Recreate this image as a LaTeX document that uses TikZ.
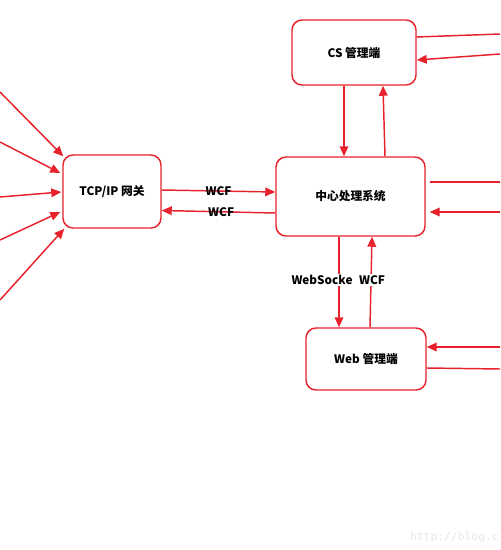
\documentclass[tikz,border=0pt]{standalone}
\usepackage{fontspec}
\setmainfont{Noto Sans CJK SC}
\setmonofont{DejaVu Sans Mono}
\usetikzlibrary{arrows.meta,calc}
\definecolor{lred}{HTML}{E8222C}
\definecolor{wm}{HTML}{EDE4E4}
\tikzset{
  box/.style={draw=lred, line width=1.1pt, rounded corners=7.5pt, fill=white, align=center,
    font=\bfseries\fontsize{8.8}{10}\selectfont, inner sep=0pt},
  conn/.style={draw=lred, line width=1.1pt},
  arr/.style={conn, -{Triangle[length=7.5pt,width=6.5pt]}},
  lbl/.style={font=\bfseries\fontsize{8.8}{10}\selectfont, inner sep=1pt},
}
\begin{document}
\begin{tikzpicture}[x=0.75pt,y=-0.75pt]
\useasboundingbox (0,0) rectangle (500,550);
\clip (0,0) rectangle (500,550);
% boxes
\node[box, minimum width=73.5pt, minimum height=54.75pt] (tcp) at (112,191.5) {TCP/IP 网关};
\node[box, minimum width=93pt, minimum height=48.75pt] (cs) at (354,52.5) {CS 管理端};
\node[box, minimum width=111.75pt, minimum height=59.25pt] (ctr) at (350.5,196.5) {中心处理系统};
\node[box, minimum width=90pt, minimum height=46.5pt] (web) at (366,359) {Web 管理端};
% free ends
\coordinate (l1) at (0,92);
\coordinate (l2) at (0,142);
\coordinate (l3) at (0,197);
\coordinate (l4) at (0,240);
\coordinate (l5) at (0,300);
\coordinate (r1) at (500,34);
\coordinate (r2) at (500,54);
\coordinate (r3) at (500,182);
\coordinate (r4) at (500,212);
\coordinate (r5) at (500,347);
\coordinate (r6) at (500,369);
% left arrows into gateway
\draw[arr] (l1) -- ($(tcp.north west)+(1,2)$);
\draw[arr] (l2) -- ($(tcp.west)+(-2,-18.5)$);
\draw[arr] (l3) -- ($(tcp.west)+(-1,0.5)$);
\draw[arr] (l4) -- ($(tcp.west)+(-2,20.5)$);
\draw[arr] (l5) -- ($(tcp.south west)+(2,0)$);
% gateway <-> center
\draw[arr] ($(tcp.east)+(0,-1.5)$) -- node[lbl]{WCF} ($(ctr.west)+(0,-4.5)$);
\draw[arr] ($(ctr.west)+(0,16.5)$) -- node[lbl, xshift=2pt]{WCF} ($(tcp.east)+(0,19)$);
% cs <-> center
\draw[arr] ($(cs.south)+(-10,0)$) -- ($(ctr.north)+(-6.5,0)$);
\draw[arr] ($(ctr.north)+(34.5,0)$) -- ($(cs.south)+(29,0)$);
% cs right
\draw[conn] ($(cs.east)+(0,-15.5)$) -- (r1);
\draw[arr] (r2) -- ($(cs.east)+(0,7.5)$);
% center right
\draw[conn] ($(ctr.east)+(4,-14.5)$) -- (r3);
\draw[arr] (r4) -- ($(ctr.east)+(4,15.5)$);
% center <-> web
\draw[arr] ($(ctr.south)+(-11.5,0)$) -- ($(web.north)+(-27,0)$);
\draw[arr] ($(web.north)+(4,0)$) -- ($(ctr.south)+(21.5,0)$);
\node[lbl, fill=white] (ws) at (322,280) {WebSocke};
\node[lbl, fill=white] (wcf3) at (372,280) {WCF};
% web right
\draw[arr] (r5) -- ($(web.east)+(0,-12)$);
\draw[conn] ($(web.east)+(0,9)$) -- (r6);
% watermark
\node[anchor=east, text=wm, font=\ttfamily\fontsize{8.5}{10}\selectfont, inner sep=0pt] (wmk) at (499,537) {http://blog.c};
\end{tikzpicture}
\end{document}
